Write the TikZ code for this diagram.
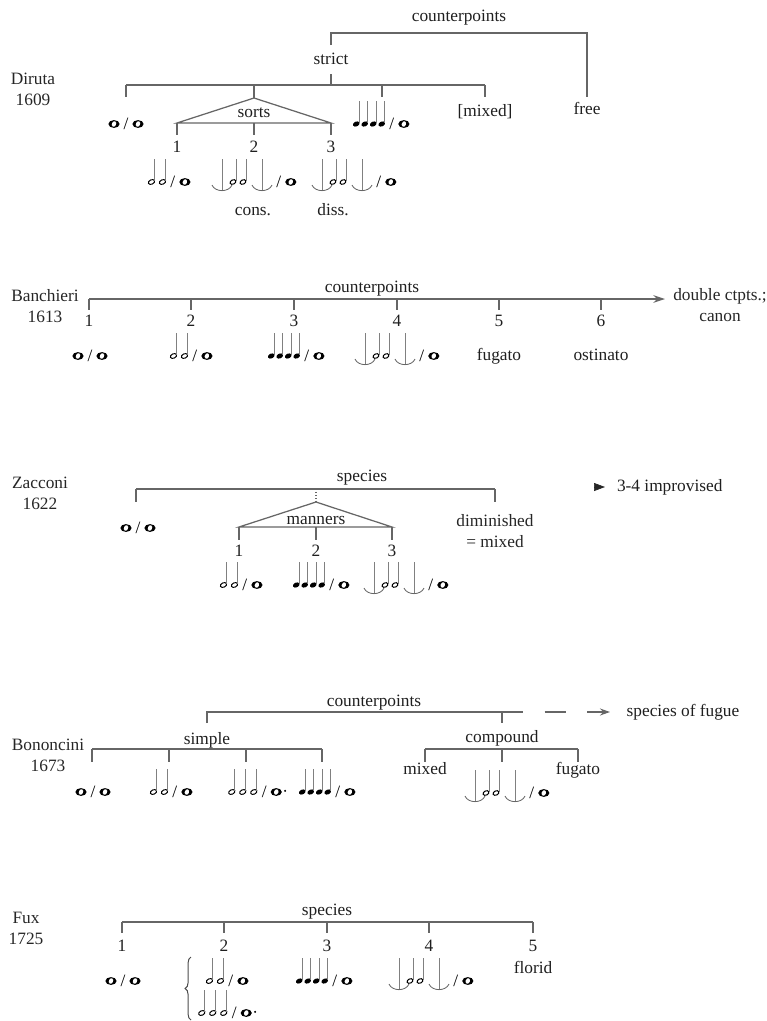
\documentclass[tikz,border=0pt]{standalone}
\usepackage{fontspec}
\setmainfont{Liberation Serif}
\usetikzlibrary{arrows.meta,decorations.pathreplacing}
\tikzset{
  br/.style={draw=black!60, line width=0.75pt},
  notestem/.style={draw=black!50, line width=0.45pt},
  tie/.style={draw=black!60, line width=0.5pt},
  lbl/.style={
    inner sep=1pt, text=black!88, text height=1.5ex, text depth=0.4ex
  },
  who/.style={align=center, inner sep=1pt, text=black!85},
  mus/.style={anchor=base, inner sep=0pt},
  glyph/.style={x=0.6pt, y=0.6pt, baseline=-3.3pt},
}
% music glyphs, head centre on y=0
\newcommand{\sep}{\hspace{2.4pt}/\hspace{2.4pt}}
\newcommand{\wnote}{\tikz[glyph]{%
  \fill[even odd rule] (5.6,0) ellipse [x radius=5.6,y radius=3.9]
    (5.6,0) ellipse [x radius=2.3,y radius=2.9,rotate=-25];}}
\newcommand{\wnoted}{\tikz[glyph]{%
  \fill[even odd rule] (5.6,0) ellipse [x radius=5.6,y radius=3.9]
    (5.6,0) ellipse [x radius=2.3,y radius=2.9,rotate=-25];
  \fill (14.5,1.2) circle [radius=1.1];}}
\newcommand{\hnotes}[1]{\tikz[glyph]{%
  \foreach \k in {1,...,#1}{%
    \draw[line width=0.6pt] ({11*\k-7.5},0) ellipse [x radius=3.3,y radius=2.2,rotate=25];
    \draw[notestem] ({11*\k-4.5},0.8) -- ++(0,22);}}}
\newcommand{\qnotes}[1]{\tikz[glyph]{%
  \foreach \k in {1,...,#1}{%
    \fill ({8.5*\k-5},0) ellipse [x radius=3.5,y radius=2.4,rotate=25];
    \draw[notestem] ({8.5*\k-1.9},0.8) -- ++(0,22);}}}
\newcommand{\synco}{\tikz[glyph]{%
  \draw[notestem] (10,-8) -- (10,23) (50,-8) -- (50,23);
  \draw[tie] (0,-3) .. controls (3,-10.5) and (17,-10.5) .. (20,-3);
  \draw[tie] (40,-3) .. controls (43,-10.5) and (57,-10.5) .. (60,-3);
  \foreach \h in {21,31}{%
    \draw[line width=0.6pt] (\h,0) ellipse [x radius=3.1,y radius=2.1,rotate=25];
    \draw[notestem] (\h+2.9,0.8) -- ++(0,22);}}}

\begin{document}
\begin{tikzpicture}[x=0.6pt,y=-0.6pt,font=\fontsize{10.4}{12.5}\selectfont]
  \useasboundingbox (0,0) rectangle (766,1021);

  % Diruta
  \node[who] (diruta) at (33,89) {Diruta\\1609};
  \node[lbl] (dctp) at (459,17) {counterpoints};
  \node[lbl] (strict) at (331,60) {strict};
  \node[lbl] (free) at (587,110) {free};
  \node[lbl] (dmix) at (485,112) {[mixed]};
  \node[lbl] (sorts) at (254,113) {sorts};
  \node[lbl] (d1) at (177,148) {1};
  \node[lbl] (d2) at (254,148) {2};
  \node[lbl] (d3) at (331,148) {3};
  \node[mus] (dOO) at (126,129.5) {\wnote\sep\wnote};
  \node[mus] (dQ) at (381,129.5) {\qnotes{4}\sep\wnote};
  \node[mus] (dH) at (169,187.5) {\hnotes{2}\sep\wnote};
  \node[mus] (dS1) at (254,187.5) {\synco\sep\wnote};
  \node[mus] (dS2) at (354,187.5) {\synco\sep\wnote};
  \node[lbl] (cons) at (253,211) {cons.};
  \node[lbl] (diss) at (333,211) {diss.};
  \coordinate (dApex) at (254,98);
  \draw[br] (strict |- 0,45) -- (strict |- 0,33) -| (free |- 0,97);
  \draw[br] (strict |- 0,74) -- (strict |- 0,85);
  \draw[br] (dOO |- 0,85) -- (dmix |- 0,85);
  \foreach \n in {dOO,dmix} \draw[br] (\n |- 0,85) -- ++(0,12);
  \draw[br] (382,85) -- ++(0,12);
  \draw[br] (sorts |- 0,85) -- (dApex);
  \draw[br] (d1 |- 0,123) -- (dApex) -- (d3 |- 0,123) -- cycle;
  \foreach \n in {d1,d2,d3} \draw[br] (\n |- 0,123) -- ++(0,12);

  % Banchieri
  \node[who] (banch) at (45,306) {Banchieri\\1613};
  \node[lbl] (bctp) at (372,288) {counterpoints};
  \foreach \x [count=\i] in {89,191,294,397,499,601}
    \node[lbl] (b\i) at (\x,322) {\i};
  \node[who] (dbl) at (720,305) {double ctpts.;\\canon};
  \node[mus] (bOO) at (90,361.5) {\wnote\sep\wnote};
  \node[mus] (bH) at (191,361.5) {\hnotes{2}\sep\wnote};
  \node[mus] (bQ) at (296,361.5) {\qnotes{4}\sep\wnote};
  \node[mus] (bS) at (397,361.5) {\synco\sep\wnote};
  \node[lbl] (bfug) at (499,356) {fugato};
  \node[lbl] (bost) at (601,356) {ostinato};
  \coordinate (bEnd) at (665,299);
  \draw[br,-{Stealth[length=7pt,width=4.6pt]}] (b1 |- bEnd) -- (bEnd);
  \foreach \i in {1,...,6} \draw[br] (b\i |- bEnd) -- ++(0,11);

  % Zacconi
  \node[who] (zacc) at (40,493) {Zacconi\\1622};
  \node[lbl] (zspec) at (362,477) {species};
  \node[lbl] (manners) at (316,520) {manners};
  \foreach \x [count=\i] in {239,316,392}
    \node[lbl] (z\i) at (\x,552) {\i};
  \node[mus] (zOO) at (138,533.5) {\wnote\sep\wnote};
  \node[who] (dim) at (495,531) {diminished\\= mixed};
  \node[mus] (zH) at (241,590.5) {\hnotes{2}\sep\wnote};
  \node[mus] (zQ) at (321,590.5) {\qnotes{4}\sep\wnote};
  \node[mus] (zS) at (406,590.5) {\synco\sep\wnote};
  \node[lbl, anchor=west] (impr) at (615,487) {3-4 improvised};
  \coordinate (zApex) at (316,502);
  \coordinate (zL) at (136,489);
  \coordinate (zR) at (495,489);
  \draw[br] (zL) -- (zR);
  \draw[br] (zL) -- ++(0,13);
  \draw[br] (zR) -- ++(0,13);
  \draw[br, densely dotted] (manners |- zL) -- (zApex);
  \draw[br] (z1 |- 0,527) -- (zApex) -- (z3 |- 0,527) -- cycle;
  \foreach \i in {1,2,3} \draw[br] (z\i |- 0,527) -- ++(0,13);
  \coordinate (zArr) at (594,487);
  \draw[black!85,-{Triangle[length=6.6pt,width=4.8pt]}] (zArr) -- ++(11,0);

  % Bononcini
  \node[who] (bono) at (48,755) {Bononcini\\1673};
  \node[lbl] (nctp) at (374,702) {counterpoints};
  \node[lbl] (simple) at (207,740) {simple};
  \node[lbl] (compound) at (502,738) {compound};
  \node[lbl] (nmix) at (425,770) {mixed};
  \node[lbl] (nfug) at (578,770) {fugato};
  \node[lbl] (sfug) at (683,712) {species of fugue};
  \node[mus] (nOO) at (93,797.5) {\wnote\sep\wnote};
  \node[mus] (nH) at (171,797.5) {\hnotes{2}\sep\wnote};
  \node[mus] (nH3) at (257,797.5) {\hnotes{3}\sep\wnoted};
  \node[mus] (nQ) at (327,797.5) {\qnotes{4}\sep\wnote};
  \node[mus] (nS) at (507,798.5) {\synco\sep\wnote};
  \coordinate (nMid) at (523,712);
  \coordinate (nEnd) at (610,712);
  \draw[br] (simple |- 0,723) -- (simple |- nMid) -- (nMid);
  \draw[br] (compound |- nMid) -- ++(0,11);
  \draw[br, dash pattern=on 0pt off 13pt on 13pt off 12.5pt on 20pt,
    -{Stealth[length=6pt,width=4.2pt]}] (nMid) -- (nEnd);
  \draw[br] (92,749) -- (322,749);
  \foreach \x in {92,169,246,322} \draw[br] (\x,749) -- ++(0,13);
  \draw[br] (nmix |- 0,749) -- (nfug |- 0,749);
  \foreach \n in {nmix,compound,nfug} \draw[br] (\n |- 0,749) -- ++(0,13);

  % Fux
  \node[who] (fux) at (26,928) {Fux\\1725};
  \node[lbl] (fspec) at (327,911) {species};
  \foreach \x [count=\i] in {122,224,327,429,533}
    \node[lbl] (f\i) at (\x,947) {\i};
  \node[lbl] (florid) at (533,969) {florid};
  \node[mus] (fOO) at (123,986.5) {\wnote\sep\wnote};
  \node[mus] (fH) at (227,986.5) {\hnotes{2}\sep\wnote};
  \node[mus] (fH3) at (227,1018.5) {\hnotes{3}\sep\wnoted};
  \node[mus] (fQ) at (324,986.5) {\qnotes{4}\sep\wnote};
  \node[mus] (fS) at (431,986.5) {\synco\sep\wnote};
  \draw[br] (f1 |- 0,922) -- (f5 |- 0,922);
  \foreach \i in {1,...,5} \draw[br] (f\i |- 0,922) -- ++(0,11);
  \coordinate (fBrB) at (191,1020);
  \coordinate (fBrT) at (191,957);
  \draw[black!70, line width=0.6pt, decorate,
    decoration={brace,amplitude=3.5pt}] (fBrB) -- (fBrT);
\end{tikzpicture}
\end{document}
